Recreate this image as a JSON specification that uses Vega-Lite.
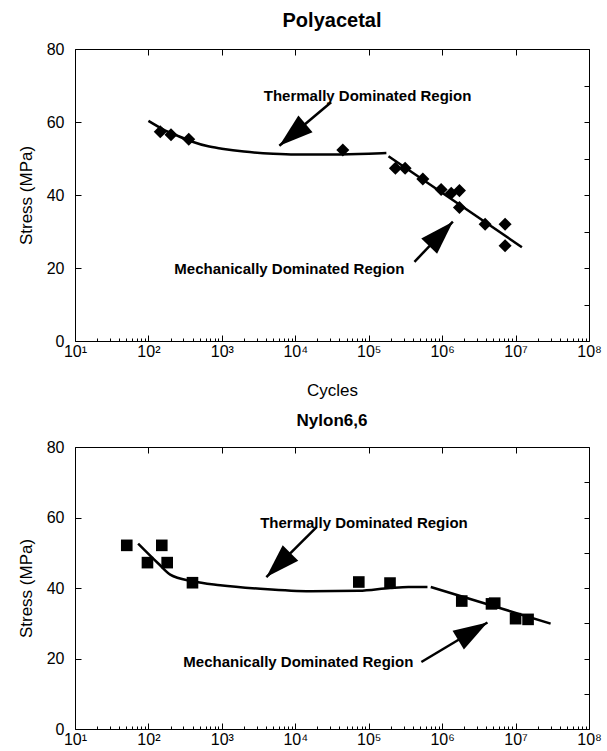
{
  "$schema": "https://vega.github.io/schema/vega-lite/v6.json",
  "background": "white",
  "padding": {"left": 17, "top": 11, "right": 0, "bottom": 0},
  "spacing": 14,
  "config": {
    "font": "Liberation Sans",
    "view": {"stroke": null},
    "axis": {
      "labelFont": "Liberation Sans", "labelFontSize": 16, "labelColor": "black",
      "domainColor": "black", "domainWidth": 1, "tickColor": "black", "tickWidth": 1, "grid": false,
      "titleFont": "Liberation Sans", "titleFontSize": 17, "titleFontWeight": "normal", "titleColor": "black",
      "labelFlush": false, "labelOverlap": false
    },
    "title": {"font": "Liberation Sans", "fontWeight": "bold", "color": "black", "baseline": "alphabetic", "anchor": "middle"}
  },
  "datasets": {
    "polyPoints": [
      {"cycles": 145, "stress": 57.3}, {"cycles": 203, "stress": 56.5}, {"cycles": 354, "stress": 55.3},
      {"cycles": 44400, "stress": 52.3}, {"cycles": 231000, "stress": 47.3}, {"cycles": 313000, "stress": 47.3},
      {"cycles": 546000, "stress": 44.4}, {"cycles": 968000, "stress": 41.5}, {"cycles": 1330000, "stress": 40.5},
      {"cycles": 1720000, "stress": 41.2}, {"cycles": 1720000, "stress": 36.6}, {"cycles": 3850000, "stress": 32},
      {"cycles": 7200000, "stress": 32}, {"cycles": 7200000, "stress": 26.1}
    ],
    "polyThermal": [
      {"cycles": 100, "stress": 60.3}, {"cycles": 158, "stress": 58.0}, {"cycles": 251, "stress": 56.2},
      {"cycles": 398, "stress": 54.6}, {"cycles": 631, "stress": 53.4}, {"cycles": 1000, "stress": 52.7},
      {"cycles": 2000, "stress": 51.9}, {"cycles": 5000, "stress": 51.3}, {"cycles": 10000, "stress": 51.1},
      {"cycles": 31600, "stress": 51.1}, {"cycles": 100000, "stress": 51.3}, {"cycles": 174000, "stress": 51.5}
    ],
    "polyMech": [{"cycles": 186000, "stress": 50.6}, {"cycles": 12200000, "stress": 25.7}],
    "polyArrows": [
      {"name": "thermal", "c1": 30760, "s1": 65.4, "c2": 6067, "s2": 53.5},
      {"name": "mech", "c1": 419800, "s1": 21.7, "c2": 1400000, "s2": 32.7}
    ],
    "polyNotes": [
      {"label": "Thermally Dominated Region", "cycles": 96400, "stress": 67.2},
      {"label": "Mechanically Dominated Region", "cycles": 8300, "stress": 19.7}
    ],
    "nylonPoints": [
      {"cycles": 50.7, "stress": 52.1}, {"cycles": 97, "stress": 47.2}, {"cycles": 152, "stress": 52.1},
      {"cycles": 180, "stress": 47.2}, {"cycles": 398, "stress": 41.5}, {"cycles": 73300, "stress": 41.7},
      {"cycles": 195000, "stress": 41.4}, {"cycles": 1850000, "stress": 36.3}, {"cycles": 4700000, "stress": 35.5},
      {"cycles": 5200000, "stress": 35.7}, {"cycles": 10000000, "stress": 31.3}, {"cycles": 14800000, "stress": 31.1}
    ],
    "nylonThermal": [
      {"cycles": 72.4, "stress": 52.6}, {"cycles": 134, "stress": 47.1}, {"cycles": 198, "stress": 43.8},
      {"cycles": 398, "stress": 41.9}, {"cycles": 950, "stress": 40.8}, {"cycles": 3340, "stress": 39.8},
      {"cycles": 16100, "stress": 39.1}, {"cycles": 73300, "stress": 39.2}, {"cycles": 195000, "stress": 40.0},
      {"cycles": 347000, "stress": 40.3}, {"cycles": 631000, "stress": 40.3}
    ],
    "nylonMech": [{"cycles": 700000, "stress": 40.3}, {"cycles": 30000000, "stress": 29.9}],
    "nylonArrows": [
      {"name": "thermal", "c1": 19500, "s1": 57.3, "c2": 4036, "s2": 43.1},
      {"name": "mech", "c1": 521200, "s1": 19.0, "c2": 4140000, "s2": 30.2}
    ],
    "nylonNotes": [
      {"label": "Thermally Dominated Region", "cycles": 86100, "stress": 58.5},
      {"label": "Mechanically Dominated Region", "cycles": 11000, "stress": 19.0}
    ]
  },
  "vconcat": [
    {
      "width": 514, "height": 292,
      "title": {"text": "Polyacetal", "fontSize": 20, "offset": 10},
      "resolve": {"axis": {"x": "independent", "y": "independent"}},
      "layer": [
        {
          "data": {"name": "polyPoints"},
          "mark": {"type": "point", "shape": "diamond", "filled": true, "color": "black", "size": 170, "opacity": 1},
          "encoding": {
            "x": {"field": "cycles", "type": "quantitative", "scale": {"type": "log", "domain": [10, 100000000]},
                  "axis": {"title": "Cycles", "values": [10, 100, 1000, 10000, 100000, 1000000, 10000000, 100000000],
                           "labelExpr": "'10' + ['⁰','¹','²','³','⁴','⁵','⁶','⁷','⁸'][round(log(datum.value)/LN10)]",
                           "tickSize": -6, "labelPadding": 8, "titlePadding": 23}},
            "y": {"field": "stress", "type": "quantitative", "scale": {"domain": [0, 80]},
                  "axis": {"title": "Stress (MPa)", "values": [0, 20, 40, 60, 80], "tickSize": -6, "labelPadding": 17, "titlePadding": 11}}
          }
        },
        {
          "data": {"name": "polyThermal"},
          "mark": {"type": "line", "color": "black", "strokeWidth": 2.5, "interpolate": "monotone"},
          "encoding": {
            "x": {"field": "cycles", "type": "quantitative", "scale": {"type": "log", "domain": [10, 100000000]},
                  "axis": {"orient": "top", "title": null, "labels": false, "values": [10, 100, 1000, 10000, 100000, 1000000, 10000000, 100000000], "tickSize": -6}},
            "y": {"field": "stress", "type": "quantitative", "scale": {"domain": [0, 80]},
                  "axis": {"orient": "right", "title": null, "labels": false, "values": [0, 10, 20, 30, 40, 50, 60, 70, 80], "tickSize": -5}}
          }
        },
        {
          "data": {"name": "polyMech"},
          "mark": {"type": "line", "color": "black", "strokeWidth": 2.5},
          "encoding": {
            "x": {"field": "cycles", "type": "quantitative", "scale": {"type": "log", "domain": [10, 100000000]},
                  "axis": {"title": null, "labels": false, "domain": false, "tickSize": -3,
                           "values": [20,30,40,50,60,70,80,90,200,300,400,500,600,700,800,900,2000,3000,4000,5000,6000,7000,8000,9000,20000,30000,40000,50000,60000,70000,80000,90000,200000,300000,400000,500000,600000,700000,800000,900000,2000000,3000000,4000000,5000000,6000000,7000000,8000000,9000000,20000000,30000000,40000000,50000000,60000000,70000000,80000000,90000000]}},
            "y": {"field": "stress", "type": "quantitative", "scale": {"domain": [0, 80]}, "axis": null}
          }
        },
        {
          "data": {"name": "polyArrows"},
          "mark": {"type": "rule", "color": "black", "strokeWidth": 2.5},
          "encoding": {
            "x": {"field": "c1", "type": "quantitative", "scale": {"type": "log", "domain": [10, 100000000]}, "axis": null},
            "y": {"field": "s1", "type": "quantitative", "scale": {"domain": [0, 80]}, "axis": null},
            "x2": {"field": "c2"},
            "y2": {"field": "s2"}
          }
        },
        {
          "data": {"name": "polyArrows"},
          "transform": [{"filter": "datum.name == 'thermal'"}],
          "mark": {"type": "point", "shape": "M0,0L-1,3.1L1,3.1Z", "filled": true, "color": "black", "opacity": 1, "size": 484, "angle": 230},
          "encoding": {
            "x": {"field": "c2", "type": "quantitative", "scale": {"type": "log", "domain": [10, 100000000]}, "axis": null},
            "y": {"field": "s2", "type": "quantitative", "scale": {"domain": [0, 80]}, "axis": null}
          }
        },
        {
          "data": {"name": "polyArrows"},
          "transform": [{"filter": "datum.name == 'mech'"}],
          "mark": {"type": "point", "shape": "M0,0L-1,3.1L1,3.1Z", "filled": true, "color": "black", "opacity": 1, "size": 484, "angle": 44},
          "encoding": {
            "x": {"field": "c2", "type": "quantitative", "scale": {"type": "log", "domain": [10, 100000000]}, "axis": null},
            "y": {"field": "s2", "type": "quantitative", "scale": {"domain": [0, 80]}, "axis": null}
          }
        },
        {
          "data": {"name": "polyNotes"},
          "mark": {"type": "text", "font": "Liberation Sans", "fontWeight": "bold", "fontSize": 15, "align": "center", "baseline": "middle", "color": "black"},
          "encoding": {
            "x": {"field": "cycles", "type": "quantitative", "scale": {"type": "log", "domain": [10, 100000000]}, "axis": null},
            "y": {"field": "stress", "type": "quantitative", "scale": {"domain": [0, 80]}, "axis": null},
            "text": {"field": "label"}
          }
        }
      ]
    },
    {
      "width": 514, "height": 282,
      "title": {"text": "Nylon6,6", "fontSize": 17, "offset": 9},
      "resolve": {"axis": {"x": "independent", "y": "independent"}},
      "layer": [
        {
          "data": {"name": "nylonPoints"},
          "mark": {"type": "point", "shape": "square", "filled": true, "color": "black", "size": 135, "opacity": 1},
          "encoding": {
            "x": {"field": "cycles", "type": "quantitative", "scale": {"type": "log", "domain": [10, 100000000]},
                  "axis": {"title": null, "values": [10, 100, 1000, 10000, 100000, 1000000, 10000000, 100000000],
                           "labelExpr": "'10' + ['⁰','¹','²','³','⁴','⁵','⁶','⁷','⁸'][round(log(datum.value)/LN10)]",
                           "tickSize": -6, "labelPadding": 8}},
            "y": {"field": "stress", "type": "quantitative", "scale": {"domain": [0, 80]},
                  "axis": {"title": "Stress (MPa)", "values": [0, 20, 40, 60, 80], "tickSize": -6, "labelPadding": 17, "titlePadding": 11}}
          }
        },
        {
          "data": {"name": "nylonThermal"},
          "mark": {"type": "line", "color": "black", "strokeWidth": 2.5, "interpolate": "monotone"},
          "encoding": {
            "x": {"field": "cycles", "type": "quantitative", "scale": {"type": "log", "domain": [10, 100000000]},
                  "axis": {"orient": "top", "title": null, "labels": false, "values": [10, 100, 1000, 10000, 100000, 1000000, 10000000, 100000000], "tickSize": -6}},
            "y": {"field": "stress", "type": "quantitative", "scale": {"domain": [0, 80]},
                  "axis": {"orient": "right", "title": null, "labels": false, "values": [0, 10, 20, 30, 40, 50, 60, 70, 80], "tickSize": -5}}
          }
        },
        {
          "data": {"name": "nylonMech"},
          "mark": {"type": "line", "color": "black", "strokeWidth": 2.5},
          "encoding": {
            "x": {"field": "cycles", "type": "quantitative", "scale": {"type": "log", "domain": [10, 100000000]},
                  "axis": {"title": null, "labels": false, "domain": false, "tickSize": -3,
                           "values": [20,30,40,50,60,70,80,90,200,300,400,500,600,700,800,900,2000,3000,4000,5000,6000,7000,8000,9000,20000,30000,40000,50000,60000,70000,80000,90000,200000,300000,400000,500000,600000,700000,800000,900000,2000000,3000000,4000000,5000000,6000000,7000000,8000000,9000000,20000000,30000000,40000000,50000000,60000000,70000000,80000000,90000000]}},
            "y": {"field": "stress", "type": "quantitative", "scale": {"domain": [0, 80]}, "axis": null}
          }
        },
        {
          "data": {"name": "nylonArrows"},
          "mark": {"type": "rule", "color": "black", "strokeWidth": 2.5},
          "encoding": {
            "x": {"field": "c1", "type": "quantitative", "scale": {"type": "log", "domain": [10, 100000000]}, "axis": null},
            "y": {"field": "s1", "type": "quantitative", "scale": {"domain": [0, 80]}, "axis": null},
            "x2": {"field": "c2"},
            "y2": {"field": "s2"}
          }
        },
        {
          "data": {"name": "nylonArrows"},
          "transform": [{"filter": "datum.name == 'thermal'"}],
          "mark": {"type": "point", "shape": "M0,0L-1,3.1L1,3.1Z", "filled": true, "color": "black", "opacity": 1, "size": 484, "angle": 225},
          "encoding": {
            "x": {"field": "c2", "type": "quantitative", "scale": {"type": "log", "domain": [10, 100000000]}, "axis": null},
            "y": {"field": "s2", "type": "quantitative", "scale": {"domain": [0, 80]}, "axis": null}
          }
        },
        {
          "data": {"name": "nylonArrows"},
          "transform": [{"filter": "datum.name == 'mech'"}],
          "mark": {"type": "point", "shape": "M0,0L-1,3.1L1,3.1Z", "filled": true, "color": "black", "opacity": 1, "size": 484, "angle": 59},
          "encoding": {
            "x": {"field": "c2", "type": "quantitative", "scale": {"type": "log", "domain": [10, 100000000]}, "axis": null},
            "y": {"field": "s2", "type": "quantitative", "scale": {"domain": [0, 80]}, "axis": null}
          }
        },
        {
          "data": {"name": "nylonNotes"},
          "mark": {"type": "text", "font": "Liberation Sans", "fontWeight": "bold", "fontSize": 15, "align": "center", "baseline": "middle", "color": "black"},
          "encoding": {
            "x": {"field": "cycles", "type": "quantitative", "scale": {"type": "log", "domain": [10, 100000000]}, "axis": null},
            "y": {"field": "stress", "type": "quantitative", "scale": {"domain": [0, 80]}, "axis": null},
            "text": {"field": "label"}
          }
        }
      ]
    }
  ]
}
